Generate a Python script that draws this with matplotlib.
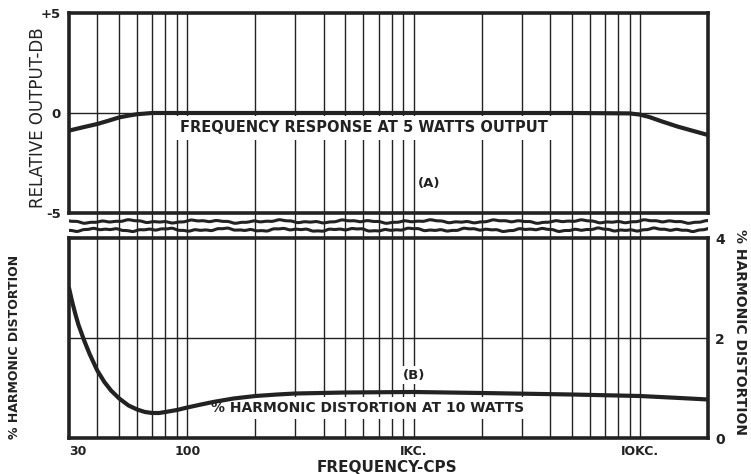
import numpy as np
import matplotlib.pyplot as plt

# frequency response at 5 watts (dB relative)
resp_hz = [30, 35, 40, 45, 50, 55, 60, 70, 100, 1000, 5000, 9000, 10000, 11000, 12500, 14700, 17000, 20000]
resp_db = [-0.88, -0.7, -0.55, -0.38, -0.22, -0.13, -0.06, 0.0, 0.0, 0.0, 0.0, -0.02, -0.08, -0.2, -0.42, -0.68, -0.88, -1.1]

# % harmonic distortion at 10 watts
dist_hz = [30, 31, 32, 33, 35, 37, 40, 43, 46, 50, 55, 60, 65, 70, 75, 80, 90, 100, 115, 130,
           160, 200, 250, 300, 500, 1000, 2000, 5000, 10000, 15000, 20000]
dist_pct = [3.0, 2.72, 2.48, 2.27, 1.95, 1.68, 1.35, 1.12, 0.95, 0.79, 0.65, 0.57, 0.52, 0.5, 0.5,
            0.52, 0.56, 0.61, 0.67, 0.72, 0.79, 0.84, 0.87, 0.89, 0.91, 0.92, 0.9, 0.87, 0.84, 0.8, 0.77]

grid_hz = [40, 50, 60, 70, 80, 90, 100, 200, 300, 400, 500, 600, 700, 800, 900,
           1000, 2000, 3000, 4000, 5000, 6000, 7000, 8000, 9000, 10000]
xtick_hz = [30, 100, 1000, 10000]
xtick_labels = ["30", "100", "IKC.", "IOKC."]

ink = "#222222"
fig = plt.figure(figsize=(7.51, 4.74), dpi=100)
left, width = 69 / 751, 639 / 751
ax1 = fig.add_axes([left, 1 - 213 / 474, width, 200 / 474])
axm = fig.add_axes([left, 1 - 238 / 474, width, 25 / 474])
ax2 = fig.add_axes([left, 1 - 438 / 474, width, 200 / 474])

for ax in (ax1, axm, ax2):
    ax.set_xscale("log")
    ax.set_xlim(30, 20000)
    ax.minorticks_off()
    for f in grid_hz:
        ax.axvline(f, color=ink, lw=1.0, zorder=1)

for ax in (ax1, ax2):
    for s in ax.spines.values():
        s.set_linewidth(2.6)
        s.set_color(ink)
        s.set_zorder(5)

bold = dict(color=ink, fontweight="bold")

# top panel
ax1.set_ylim(-5, 5)
ax1.axhline(0, color=ink, lw=1.0, zorder=1)
ax1.plot(resp_hz, resp_db, color=ink, lw=3, zorder=4, solid_capstyle="round")
ax1.set_xticks([])
ax1.set_yticks([5, 0, -5])
ax1.set_yticklabels(["+5", "0", "-5"], fontsize=9.5, **bold)
ax1.tick_params(axis="y", length=0, pad=6)
ax1.text(604, -0.75, "FREQUENCY RESPONSE AT 5 WATTS OUTPUT", fontsize=10.5,
         ha="center", va="center", zorder=3,
         bbox=dict(facecolor="white", edgecolor="none", pad=3), **bold)
ax1.text(1167, -3.5, "(A)", fontsize=9.5, ha="center", va="center", zorder=3, **bold)

# break strip with wavy lines
axm.set_ylim(0, 1)
axm.axis("off")
t = np.logspace(np.log10(30), np.log10(20000), 600)
u = np.log10(t)
wob1 = 0.035 * np.sin(u * 19) + 0.025 * np.sin(u * 47 + 1) + 0.015 * np.sin(u * 113)
wob2 = 0.035 * np.sin(u * 23 + 2) + 0.025 * np.sin(u * 53) + 0.015 * np.sin(u * 127 + 1)
axm.plot(t, 0.66 + wob1, color=ink, lw=2.2, zorder=4)
axm.plot(t, 0.33 + wob2, color=ink, lw=2.2, zorder=4)

# bottom panel
ax2.set_ylim(0, 4)
ax2.axhline(2, color=ink, lw=1.0, zorder=1)
ax2.plot(dist_hz, dist_pct, color=ink, lw=3, zorder=4, solid_capstyle="round")
ax2.set_xticks(xtick_hz)
ax2.set_xticklabels(xtick_labels, fontsize=9, **bold)
ax2.get_xticklabels()[0].set_ha("left")
ax2.tick_params(axis="x", length=0, pad=5)
ax2.yaxis.tick_right()
ax2.set_yticks([0, 2, 4])
ax2.set_yticklabels(["0", "2", "4"], fontsize=10, **bold)
ax2.tick_params(axis="y", length=0, pad=5)
ax2.text(1002, 1.26, "(B)", fontsize=9.5, ha="center", va="center", zorder=3,
         bbox=dict(facecolor="white", edgecolor="none", pad=2), **bold)
ax2.text(623, 0.6, "% HARMONIC DISTORTION AT 10 WATTS", fontsize=10,
         ha="center", va="center", zorder=3,
         bbox=dict(facecolor="white", edgecolor="none", pad=3), **bold)

fig.text(38 / 751, 1 - 118 / 474, "RELATIVE OUTPUT-DB", rotation=90, fontsize=12,
         ha="center", va="center", color=ink)
fig.text(387 / 751, 1 - 460 / 474, "FREQUENCY-CPS", fontsize=11,
         ha="center", va="top", **bold)
fig.text(15 / 751, 1 - 347 / 474, "% HARMONIC DISTORTION", rotation=90, fontsize=9,
         ha="center", va="center", **bold)
fig.text(740 / 751, 1 - 332 / 474, "% HARMONIC DISTORTION", rotation=-90, fontsize=10,
         ha="center", va="center", **bold)

fig.savefig("out.png", dpi=100, facecolor="white")
